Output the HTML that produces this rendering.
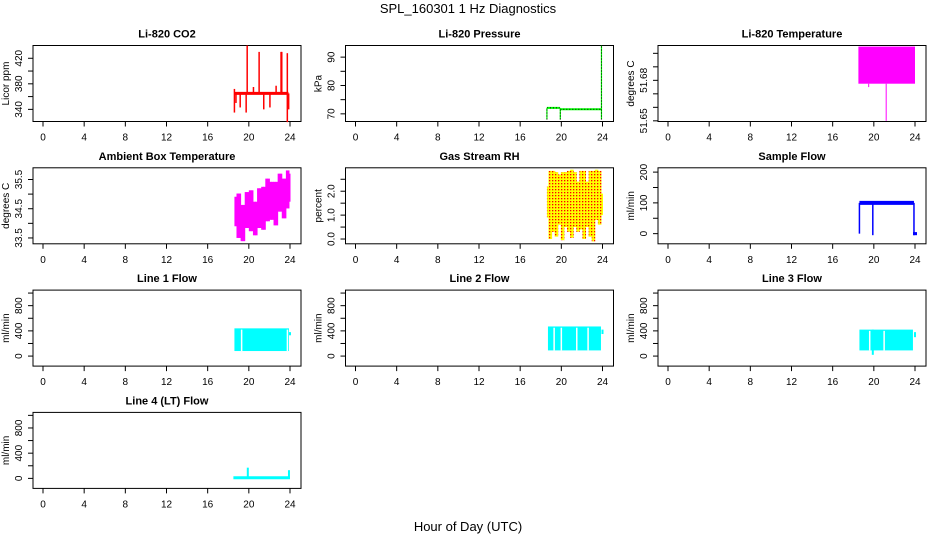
<!DOCTYPE html>
<html><head><meta charset="utf-8">
<style>
html,body{margin:0;padding:0;background:#fff;}
svg{display:block;font-family:"Liberation Sans",Arial,sans-serif;}
</style></head>
<body>
<svg id="chart" width="936" height="540" viewBox="0 0 936 540">
<defs>
<pattern id="rhdots" width="3" height="3" patternUnits="userSpaceOnUse">
<rect width="3" height="3" fill="#ffff00"/>
<rect x="0" y="0" width="1.3" height="1.3" fill="#ff0000"/>
</pattern>
</defs>
<text x="468" y="13" font-size="13" text-anchor="middle">SPL_160301  1 Hz Diagnostics</text>
<text x="468" y="531" font-size="13" text-anchor="middle">Hour of Day (UTC)</text>
<g id="plots"></g>
</svg>
<script>
// ---- data ----
const xTicks = [0,4,8,12,16,20,24];
// CO2
const co2Base = [18.6, 23.85, 365];
const co2Hours = [18.6,18.75,19.16,19.74,19.84,20.45,21.0,21.45,22.05,22.65,23.13,23.2,23.74,23.87];
const co2Lo    = [335,350,343,335,365,365,365,340,343,365,365,365,320,340];
const co2Hi    = [372,365,365,365,440,375,430,365,365,377,430,430,428,365];
// Pressure
const presHours = [18.6,19.85,19.9,23.9];
const presVal   = [72.1,72.1,71.6,71.6];
const presDropHours = [18.6,19.9,23.9];
const presDropLo = [68,68,68];
const presDropHi = [72.1,72.1,94];
// Li-820 temperature
const tempBlock = [18.5,24.0,51.6775,51.705];
const tempSpikeHours = [19.5,21.2];
const tempSpikeLo = [51.675,51.65];
// Ambient box temperature
const ambHours = [18.6,19.0,19.4,19.8,20.2,20.6,21.0,21.4,21.8,22.2,22.6,23.0,23.4,23.8,24.0];
const ambHi = [34.91,35.02,34.63,35.07,35.13,34.74,35.2,35.25,35.53,35.42,35.42,35.7,35.53,35.81,35.7];
const ambLo = [33.9,33.5,33.39,33.84,33.73,33.59,33.84,33.78,34.07,34.12,33.93,34.4,34.17,34.51,34.74];
// Gas stream RH
const rhHours = [18.6,18.9,19.2,19.5,19.8,20.1,20.4,20.7,21.0,21.3,21.6,21.9,22.2,22.5,22.8,23.1,23.4,23.7,24.0];
const rhHi = [2.2,2.85,2.85,2.8,2.7,2.8,2.8,2.85,2.9,2.8,2.4,2.85,2.85,2.4,2.85,2.85,2.9,2.85,1.9];
const rhLo = [0.9,0.0,0.3,0.1,0.6,-0.05,0.5,0.3,0.05,0.5,0.3,0.4,0.0,0.5,0.1,-0.1,0.8,0.6,1.0];
// Sample flow
const sfBase = [18.6,23.9,100];
const sfDropHours = [18.6,19.9,23.9,24.0];
const sfDropLo = [0,-5,-5,-5];
const sfDropHi = [100,105,100,5];
// Line flows: [start, end, low, high]
const lineBlocks = [[18.6,23.9,80,440],[18.7,23.85,90,470],[18.6,23.8,90,420],[18.5,24.0,0,20]];
const lineGaps = [[19.3,23.75],[19.3,20.0,21.5,22.6],[19.6,21.0],[]];
const lineSpikeHours = [[24.0],[24.0],[19.9,24.0],[19.9,23.9]];
const lineSpikeLo = [[330],[350],[20,300],[10,10]];
const lineSpikeHi = [[380],[420],[420,380],[170,130]];

const titles = ["Li-820 CO2","Li-820 Pressure","Li-820 Temperature","Ambient Box Temperature","Gas Stream RH","Sample Flow","Line 1 Flow","Line 2 Flow","Line 3 Flow","Line 4 (LT) Flow"];
const ylabs = ["Licor ppm","kPa","degrees C","degrees C","percent","ml/min","ml/min","ml/min","ml/min","ml/min"];
const ylims = [[321,440],[67.3,94.1],[51.6495,51.7058],[33.3,35.9],[-0.2,2.98],[-33,214],[-159,1047],[-159,1047],[-159,1047],[-159,1047]];
const yTicks = [[340,360,380,400,420],[70,75,80,85,90],[51.65,51.66,51.67,51.68,51.69,51.70],[33.5,34,34.5,35,35.5],[0,0.5,1,1.5,2,2.5],[0,50,100,150,200],[0,200,400,600,800,1000],[0,200,400,600,800,1000],[0,200,400,600,800,1000],[0,200,400,600,800,1000]];
const yLabels = [["340","","380","","420"],["70","","80","","90"],["51.65","","","51.68","",""],["33.5","","34.5","","35.5"],["0.0","","1.0","","2.0",""],["0","","100","","200"],["0","","400","","800",""],["0","","400","","800",""],["0","","400","","800",""],["0","","400","","800",""]];

const NS = "http://www.w3.org/2000/svg";
const root = document.getElementById('plots');
function mk(tag, attrs, parent){ const e=document.createElementNS(NS,tag); for(const k in attrs) e.setAttribute(k,attrs[k]); (parent||root).appendChild(e); return e; }

function panel(i){
  const c=i%3, r=Math.floor(i/3);
  const left=33+312.5*c, right=301+312.5*c, top=45.5+122.3*r, bottom=121.5+122.3*r;
  const x0=43+312.5*c, x24=290+312.5*c;
  const yl=ylims[i];
  const sx=h=>x0+h*(x24-x0)/24;
  const sy=v=>bottom-(v-yl[0])/(yl[1]-yl[0])*(bottom-top);
  const g=mk('g',{});
  
  
  const t=mk('text',{x:(left+right)/2,y:top-8,'font-size':11,'font-weight':'bold','text-anchor':'middle'},g);
  t.textContent=titles[i];
  
  
  const box=mk('rect',{x:left,y:top,width:right-left,height:bottom-top,fill:'none',stroke:'#000','stroke-width':1},g);
  
  
  // x axis
  const xa=mk('g',{},g);
  
  
  xTicks.forEach(h=>{
    mk('line',{x1:sx(h),x2:sx(h),y1:bottom,y2:bottom+5,stroke:'#000'},xa);
    const tx=mk('text',{x:sx(h),y:bottom+19,'font-size':10,'text-anchor':'middle'},xa);
    tx.textContent=h;
    
    
  });
  // y axis
  const ya=mk('g',{},g);
  
  
  const tk=yTicks[i];
  mk('line',{x1:left,x2:left,y1:sy(tk[0]),y2:sy(tk[tk.length-1]),stroke:'#000'},ya);
  tk.forEach((v,j)=>{
    mk('line',{x1:left-5,x2:left,y1:sy(v),y2:sy(v),stroke:'#000'},ya);
    if(yLabels[i][j]){
      const lx=left-11, ly=sy(v);
      const tx=mk('text',{x:lx,y:ly,'font-size':10,'text-anchor':'middle',transform:'rotate(-90 '+lx+' '+ly+')'},ya);
      tx.textContent=yLabels[i][j];
      
      
    }
  });
  const yx=left-24, yy=(top+bottom)/2;
  const yt=mk('text',{x:yx,y:yy,'font-size':10,'text-anchor':'middle',transform:'rotate(-90 '+yx+' '+yy+')'},g);
  yt.textContent=ylabs[i];
  
  
  const s=mk('g',{},g);
  
  
  return {sx,sy,s};
}

function vseg(p,h,lo,hi,col,w){ mk('line',{x1:p.sx(h),x2:p.sx(h),y1:p.sy(lo),y2:p.sy(hi),stroke:col,'stroke-width':w},p.s); }
function hseg(p,h1,h2,v,col,w){ mk('line',{x1:p.sx(h1),x2:p.sx(h2),y1:p.sy(v),y2:p.sy(v),stroke:col,'stroke-width':w},p.s); }
function band(p,hours,lo,hi,fill){
  for(let k=0;k<hours.length-1;k++){
    const x1=p.sx(hours[k]), x2=p.sx(hours[k+1]);
    const yA=p.sy(Math.max(hi[k],hi[k+1])), yB=p.sy(Math.min(lo[k],lo[k+1]));
    // wiggly interior: top of each step uses own value
    mk('rect',{x:x1,y:p.sy(hi[k]),width:(x2-x1)/2+0.5,height:p.sy(lo[k])-p.sy(hi[k]),fill:fill},p.s);
    mk('rect',{x:(x1+x2)/2,y:p.sy(hi[k+1]),width:(x2-x1)/2+0.5,height:p.sy(lo[k+1])-p.sy(hi[k+1]),fill:fill},p.s);
  }
}

// Panel 0: CO2
let p=panel(0);
hseg(p,co2Base[0],co2Base[1],co2Base[2],'#ff0000',3);
co2Hours.forEach((h,k)=>vseg(p,h,co2Lo[k],co2Hi[k],'#ff0000',1.5));
// Panel 1: pressure
p=panel(1);
for(let k=0;k<presHours.length-1;k+=2) hseg(p,presHours[k],presHours[k+1],presVal[k],'#00ff00',2);
for(let k=0;k<presHours.length-1;k+=2) mk('line',{x1:p.sx(presHours[k]),x2:p.sx(presHours[k+1]),y1:p.sy(presVal[k]),y2:p.sy(presVal[k]),stroke:'#000','stroke-width':1,'stroke-dasharray':'1 2'},p.s);
presDropHours.forEach((h,k)=>{vseg(p,h,presDropLo[k],presDropHi[k],'#00ff00',1.2);
  mk('line',{x1:p.sx(h),x2:p.sx(h),y1:p.sy(presDropLo[k]),y2:p.sy(presDropHi[k]),stroke:'#000','stroke-width':1,'stroke-dasharray':'1 2'},p.s);});
// Panel 2: temperature
p=panel(2);
mk('rect',{x:p.sx(tempBlock[0]),y:p.sy(tempBlock[3]),width:p.sx(tempBlock[1])-p.sx(tempBlock[0]),height:p.sy(tempBlock[2])-p.sy(tempBlock[3]),fill:'#ff00ff'},p.s);
tempSpikeHours.forEach((h,k)=>vseg(p,h,tempSpikeLo[k],tempBlock[2],'#ff00ff',1));
// Panel 3: ambient
p=panel(3);
band(p,ambHours,ambLo,ambHi,'#ff00ff');
// Panel 4: RH
p=panel(4);
band(p,rhHours,rhLo,rhHi,'url(#rhdots)');
// Panel 5: sample flow
p=panel(5);
hseg(p,sfBase[0],sfBase[1],sfBase[2],'#0000ff',4);
sfDropHours.forEach((h,k)=>vseg(p,h,sfDropLo[k],sfDropHi[k],'#0000ff',k==3?4:1.5));
// Line flows
for(let L=0;L<4;L++){
  p=panel(6+L);
  const b=lineBlocks[L];
  if(L<3){
    mk('rect',{x:p.sx(b[0]),y:p.sy(b[3]),width:p.sx(b[1])-p.sx(b[0]),height:p.sy(b[2])-p.sy(b[3]),fill:'#00ffff'},p.s);
  } else {
    hseg(p,b[0],b[1],(b[2]+b[3])/2,'#00ffff',3);
  }
  lineGaps[L].forEach(h=>vseg(p,h,b[2],b[3]-20,'#ffffff',1.5));
  lineSpikeHours[L].forEach((h,k)=>vseg(p,h,lineSpikeLo[L][k],lineSpikeHi[L][k],'#00ffff',2));
}
</script>
</body></html>
